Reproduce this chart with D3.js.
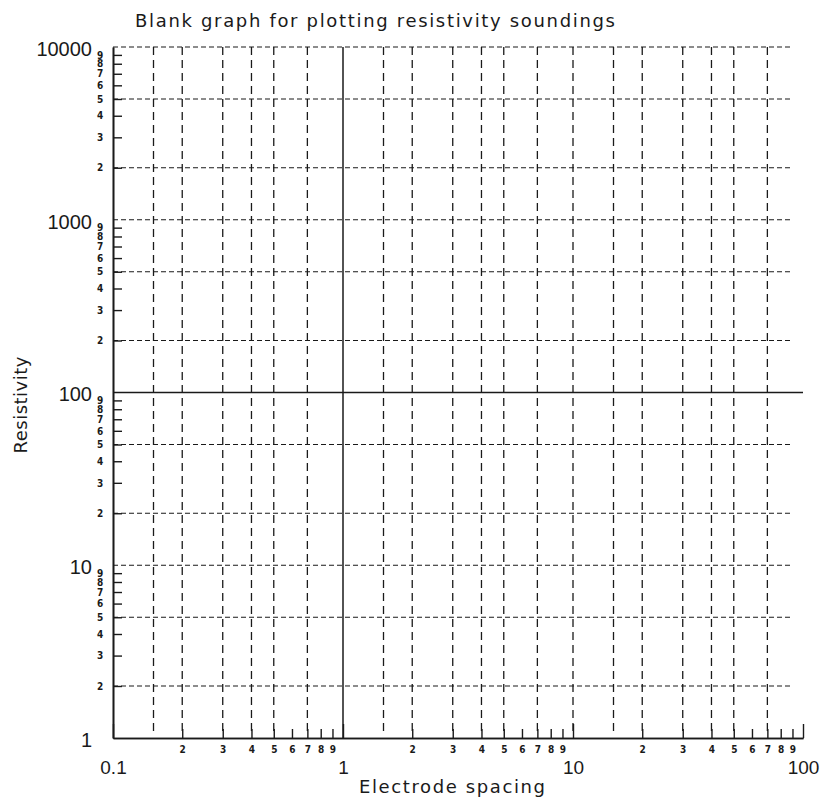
<!DOCTYPE html>
<html>
<head>
<meta charset="utf-8">
<script src="https://cdn.jsdelivr.net/npm/d3@7"></script>
<style>
  body { margin: 0; background: #fff; }
  svg { display: block; }
</style>
</head>
<body>
<svg id="chart"></svg>
<script>
// axis extents
const xDomain = [0.1, 100];
const yDomain = [1, 10000];

// grid lines
const xDashed = [0.15, 0.2, 0.3, 0.4, 0.5, 0.7, 1.5, 2, 3, 4, 5, 7, 10, 15, 20, 30, 40, 50, 70];
const xSolid = [1];
const yDashed = [2, 5, 10, 20, 50, 200, 500, 1000, 2000, 5000, 10000];
const ySolid = [100];

// ticks
const xMinorTicks = [0.2, 0.3, 0.4, 0.5, 0.6, 0.7, 0.8, 0.9, 2, 3, 4, 5, 6, 7, 8, 9, 20, 30, 40, 50, 60, 70, 80, 90];
const yMinorTicks = [2, 3, 4, 5, 6, 7, 8, 9, 20, 30, 40, 50, 60, 70, 80, 90,
  200, 300, 400, 500, 600, 700, 800, 900, 2000, 3000, 4000, 5000, 6000, 7000, 8000, 9000];
const xMajorTicks = [0.1, 1, 10, 100];
const xMajorLabels = ['0.1', '1', '10', '100'];
const yMajorTicks = [1, 10, 100, 1000, 10000];
const yMajorLabels = ['1', '10', '100', '1000', '10000'];

const title = 'Blank graph for plotting resistivity soundings';
const xTitle = 'Electrode spacing';
const yTitle = 'Resistivity';

const width = 825;
const height = 801;
const margin = { top: 47, right: 22, bottom: 63, left: 113 };

const svg = d3.select('#chart')
  .attr('width', width)
  .attr('height', height)
  .style('font-family', '"DejaVu Sans", sans-serif');

const x = d3.scaleLog().domain(xDomain).range([margin.left, width - margin.right]);
const y = d3.scaleLog().domain(yDomain).range([height - margin.bottom, margin.top]);

const ink = '#1a1a1a';
const minorLabel = d => Math.round(d / Math.pow(10, Math.floor(Math.log10(d) + 1e-9)));

// dashed grid
svg.append('g')
  .selectAll('line')
  .data(yDashed)
  .join('line')
  .attr('x1', x(xDomain[0]))
  .attr('x2', x(xDomain[1]) - 10)
  .attr('y1', d => y(d))
  .attr('y2', d => y(d))
  .attr('stroke', ink)
  .attr('stroke-width', 1.2)
  .attr('stroke-dasharray', '5,3');

svg.append('g')
  .selectAll('line')
  .data(xDashed)
  .join('line')
  .attr('x1', d => x(d))
  .attr('x2', d => x(d))
  .attr('y1', y(yDomain[1]))
  .attr('y2', y(yDomain[0]) - 7)
  .attr('stroke', ink)
  .attr('stroke-width', 1.3)
  .attr('stroke-dasharray', '8,5');

// solid reference lines
svg.append('g')
  .selectAll('line')
  .data(ySolid)
  .join('line')
  .attr('x1', x(xDomain[0]))
  .attr('x2', x(xDomain[1]))
  .attr('y1', d => y(d))
  .attr('y2', d => y(d))
  .attr('stroke', ink)
  .attr('stroke-width', 1.5);

svg.append('g')
  .selectAll('line')
  .data(xSolid)
  .join('line')
  .attr('x1', d => x(d))
  .attr('x2', d => x(d))
  .attr('y1', y(yDomain[1]))
  .attr('y2', y(yDomain[0]))
  .attr('stroke', ink)
  .attr('stroke-width', 1.5);

// bottom axis: minor ticks point up, small labels below
const xAxisMinor = svg.append('g')
  .attr('transform', `translate(0,${y(yDomain[0])})`)
  .call(d3.axisBottom(x).tickValues(xMinorTicks).tickSize(-9).tickSizeOuter(0)
    .tickPadding(8).tickFormat(minorLabel));

const xAxisMajor = svg.append('g')
  .attr('transform', `translate(0,${y(yDomain[0])})`)
  .call(d3.axisBottom(x).tickValues(xMajorTicks).tickSize(-14).tickSizeOuter(0)
    .tickPadding(23).tickFormat((d, i) => xMajorLabels[i]));

// left axis: minor ticks point right
const yAxisMinor = svg.append('g')
  .attr('transform', `translate(${x(xDomain[0])},0)`)
  .call(d3.axisLeft(y).tickValues(yMinorTicks).tickSize(-9).tickSizeOuter(0)
    .tickPadding(13).tickFormat(minorLabel));

const yAxisMajor = svg.append('g')
  .attr('transform', `translate(${x(xDomain[0])},0)`)
  .call(d3.axisLeft(y).tickValues(yMajorTicks).tickSize(0).tickSizeOuter(0)
    .tickPadding(21).tickFormat((d, i) => yMajorLabels[i]));

[xAxisMinor, xAxisMajor, yAxisMinor, yAxisMajor].forEach(g => {
  g.select('.domain').attr('stroke', ink).attr('stroke-width', 1.6);
  g.selectAll('.tick line').attr('stroke', ink).attr('stroke-width', 1.4);
  g.selectAll('.tick text').attr('fill', ink);
});

xAxisMinor.selectAll('.tick text')
  .style('font-family', '"DejaVu Sans Condensed", "DejaVu Sans", sans-serif')
  .style('font-weight', 'bold')
  .style('font-size', '10px');

yAxisMinor.selectAll('.tick text')
  .style('font-family', '"DejaVu Sans Condensed", "DejaVu Sans", sans-serif')
  .style('font-weight', 'bold')
  .style('font-size', '10px')
  .attr('text-anchor', 'middle');

xAxisMajor.selectAll('.tick text')
  .style('font-size', '19px');

yAxisMajor.selectAll('.tick text')
  .style('font-size', '20px')
  .attr('dy', '0.42em');

// titles
svg.append('text')
  .attr('x', 135)
  .attr('y', 27)
  .attr('textLength', 480)
  .attr('lengthAdjust', 'spacing')
  .style('font-size', '18px')
  .attr('fill', ink)
  .text(title);

svg.append('text')
  .attr('x', 452)
  .attr('y', 793)
  .attr('text-anchor', 'middle')
  .attr('textLength', 186)
  .attr('lengthAdjust', 'spacing')
  .style('font-size', '18px')
  .attr('fill', ink)
  .text(xTitle);

svg.append('text')
  .attr('transform', 'translate(27,405) rotate(-90)')
  .attr('text-anchor', 'middle')
  .attr('textLength', 97)
  .attr('lengthAdjust', 'spacing')
  .style('font-size', '18px')
  .attr('fill', ink)
  .text(yTitle);
</script>
</body>
</html>
